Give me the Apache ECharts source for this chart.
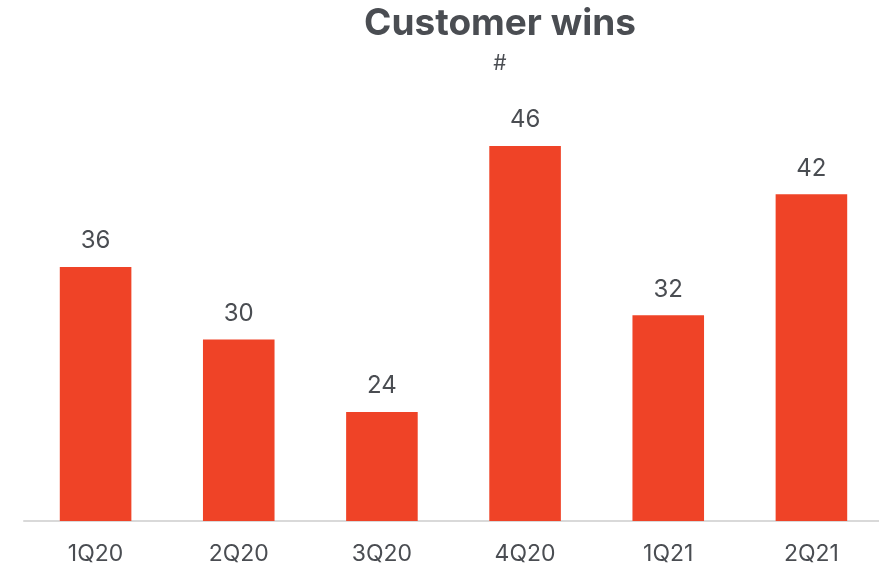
<!DOCTYPE html>
<html>
<head>
<meta charset="utf-8">
<script src="https://cdn.jsdelivr.net/npm/echarts@6/dist/echarts.min.js"></script>
<style>
  html, body { margin: 0; padding: 0; background: #fff; }
  #main { width: 879px; height: 570px; }
</style>
</head>
<body>
<div id="main"></div>
<script>
  // data
  var quarters = ['1Q20', '2Q20', '3Q20', '4Q20', '1Q21', '2Q21'];
  var wins = [36, 30, 24, 46, 32, 42];

  var textColor = '#4a4d52';
  var chart = echarts.init(document.getElementById('main'));
  chart.setOption({
    animation: false,
    graphic: [
      { type: 'text', x: 500, y: 5, style: { text: 'Customer wins', textAlign: 'center', fill: textColor,
        font: 'bold 37px Inter, sans-serif' } },
      { type: 'text', x: 500, y: 53, style: { text: '#', textAlign: 'center', fill: textColor,
        font: '21px Inter, sans-serif' } }
    ],
    grid: { left: 24, right: -4, top: 97.5, bottom: 49, outerBoundsMode: 'none' },
    xAxis: {
      type: 'category',
      data: quarters,
      axisLine: { show: true, lineStyle: { color: '#d9d9d9', width: 2 } },
      axisTick: { show: false },
      axisLabel: { color: textColor, fontSize: 23, fontFamily: 'Inter, sans-serif', margin: 22 }
    },
    yAxis: {
      type: 'value',
      min: 15,
      max: 50,
      show: false
    },
    series: [{
      type: 'bar',
      data: wins,
      barWidth: '50%',
      itemStyle: { color: '#ef4327' },
      label: {
        show: true,
        position: 'top',
        distance: 14,
        color: textColor,
        fontSize: 24,
        fontFamily: 'Inter, sans-serif'
      }
    }]
  });
</script>
</body>
</html>
